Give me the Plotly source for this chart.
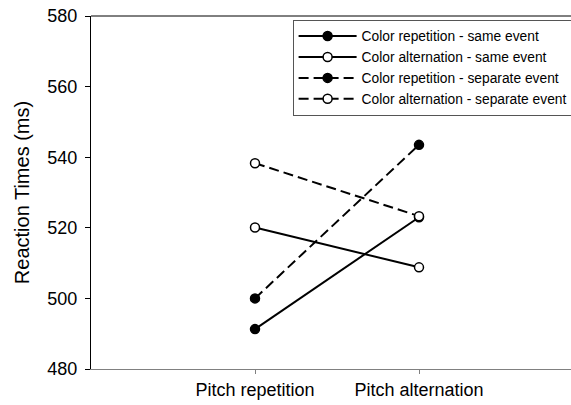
import plotly.graph_objects as go

categories = ["Pitch repetition", "Pitch alternation"]
x_pos = [1, 2]
series_names = [
    "Color repetition - same event",
    "Color alternation - same event",
    "Color repetition - separate event",
    "Color alternation - separate event",
]
rep_same = [491.3, 523.0]
alt_same = [520.1, 508.8]
rep_sep = [500.0, 543.5]
alt_sep = [538.3, 523.3]
y_ticks = [480, 500, 520, 540, 560, 580]

series = [rep_same, alt_same, rep_sep, alt_sep]
filled = [True, False, True, False]
dashes = ["solid", "solid", "10px,5px", "10px,5px"]

fig = go.Figure()
for name, vals, f, d in zip(series_names, series, filled, dashes):
    fig.add_trace(go.Scatter(
        x=x_pos, y=vals, name=name, mode="lines+markers",
        line=dict(color="black", width=2, dash=d),
        marker=dict(symbol="circle", size=9,
                    color="black" if f else "white",
                    line=dict(color="black", width=1.5)),
    ))

font = "Liberation Sans, Arial, sans-serif"
fig.update_layout(
    width=571, height=405,
    margin=dict(l=91, r=0, t=16, b=36, autoexpand=False),
    plot_bgcolor="white", paper_bgcolor="white",
    font=dict(family=font, color="black"),
    showlegend=True,
    legend=dict(
        x=0.42, y=0.99, xanchor="left", yanchor="top",
        bgcolor="white", bordercolor="#555555", borderwidth=1,
        font=dict(size=13.8, family=font),
        itemwidth=58,
    ),
    xaxis=dict(
        range=[0, 480 / 164], tickvals=x_pos, ticktext=categories,
        showgrid=False, zeroline=False,
        showline=True, linecolor="#808080", linewidth=1,
        ticks="outside", ticklen=4, tickcolor="#808080",
        tickfont=dict(size=18),
    ),
    yaxis=dict(
        range=[480, 580], tickvals=y_ticks,
        showgrid=False, zeroline=False,
        showline=True, linecolor="black", linewidth=1,
        ticks="outside", ticklen=5, tickcolor="black",
        tickfont=dict(size=18), ticklabelstandoff=4,
        title=dict(text="Reaction Times (ms)", font=dict(size=20), standoff=12),
    ),
    shapes=[dict(type="line", xref="paper", yref="paper", x0=0, x1=1, y0=1, y1=1,
                 line=dict(color="black", width=1))],
)

fig.write_html("out.html", config={"displayModeBar": False},
               post_script="document.body.style.margin='0';")
